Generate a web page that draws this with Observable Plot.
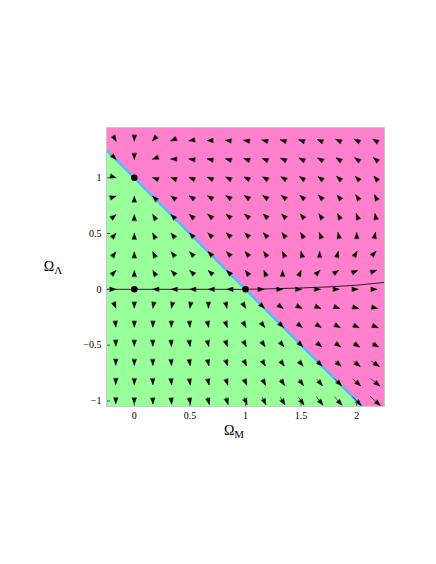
<!DOCTYPE html>
<html><head><meta charset="utf-8">
<script src="https://cdn.jsdelivr.net/npm/d3@7"></script>
<script src="https://cdn.jsdelivr.net/npm/@observablehq/plot@0.6"></script>
<style>body{margin:0;background:#fff}</style>
</head><body><div id="chart"></div>
<script>
// Tick labels
const xTicks = [0, 0.5, 1, 1.5, 2];
const yTicks = [-1, -0.5, 0, 0.5, 1];
// Arrow grid (Omega_M, Omega_Lambda)
const gridOmegaM = [-0.1667, 0, 0.1667, 0.3333, 0.5, 0.6667, 0.8333, 1, 1.1667, 1.3333, 1.5, 1.6667, 1.8333, 2, 2.1667];
const gridOmegaL = [-1, -0.8333, -0.6667, -0.5, -0.3333, -0.1667, 0, 0.1667, 0.3333, 0.5, 0.6667, 0.8333, 1, 1.1667, 1.3333];
// Flat-universe boundary Omega_M + Omega_Lambda = 1
const boundaryM = [-0.25, 2.25];
const boundaryL = [1.25, -1.25];
// Trajectory through the fixed points
const trajM = [-0.25, 0, 0.5, 1, 1.25, 1.5, 1.75, 2, 2.25];
const trajL = [0, 0, 0, 0, 0.005, 0.012, 0.022, 0.037, 0.062];
// Fixed points
const fixedM = [0, 0, 1];
const fixedL = [1, 0, 0];

const W = 436, H = 564, mL = 106, mR = 52, mT = 127, mB = 158;
const xDomain = [-0.25, 2.25], yDomain = [-1.05, 1.45];
const pxX = (W - mL - mR) / (xDomain[1] - xDomain[0]);
const pxY = (H - mT - mB) / (yDomain[1] - yDomain[0]);

// Friedmann dynamical system (d/d ln a)
function flow(m, l) { return [m * (m - 2 * l - 1), l * (m - 2 * l + 2)]; }

const field = [];
for (const l of gridOmegaL) for (const m of gridOmegaM) {
  const [u, v] = flow(m, l);
  const mag = Math.hypot(u, v);
  if (mag > 1e-6) field.push({m, l, u, v, mag});
}
const maxMag = d3.max(field, d => d.mag);
const maxLenPx = 14;
for (const d of field) {
  const len = maxLenPx * d.mag / maxMag;
  const ux = d.u / d.mag, uy = d.v / d.mag;
  d.m1 = d.m - ux * len / 2 / pxX; d.l1 = d.l - uy * len / 2 / pxY;
  d.m2 = d.m + ux * len / 2 / pxX; d.l2 = d.l + uy * len / 2 / pxY;
  d.angle = Math.atan2(d.u, d.v) * 180 / Math.PI;
}
const boundary = boundaryM.map((m, i) => ({m, l: boundaryL[i]}));
const traj = trajM.map((m, i) => ({m, l: trajL[i]}));
const fixed = fixedM.map((m, i) => ({m, l: fixedL[i]}));

const spike = {
  draw(context, l, r) {
    context.moveTo(-r, 0);
    context.lineTo(0, -l);
    context.lineTo(r, 0);
    context.closePath();
  }
};
const fmt = d => d < 0 ? "\u2212" + Math.abs(d) : String(d);

const svg = Plot.plot({
  width: W, height: H,
  marginLeft: mL, marginRight: mR, marginTop: mT, marginBottom: mB,
  style: {fontFamily: "'Liberation Serif', 'Times New Roman', serif", fontSize: "10px", background: "#fff"},
  x: {domain: xDomain, label: null},
  y: {domain: yDomain, label: null},
  marks: [
    Plot.areaY(boundary, {x: "m", y1: yDomain[0], y2: "l", fill: "#99ff99", clip: true}),
    Plot.areaY(boundary, {x: "m", y1: "l", y2: yDomain[1], fill: "#ff80cc", clip: true}),
    Plot.line(boundary, {x: "m", y: "l", stroke: "#55bbff", strokeWidth: 2.6, clip: true}),
    Plot.link(field, {x1: "m1", y1: "l1", x2: "m2", y2: "l2", stroke: "black", strokeWidth: 0.6, clip: true}),
    Plot.vector(field, {x: "m2", y: "l2", rotate: "angle", length: 6, anchor: "end", shape: spike, r: 2.2,
      fill: "black", stroke: "black", strokeWidth: 0.4, clip: true}),
    Plot.line(traj, {x: "m", y: "l", stroke: "#111", strokeWidth: 0.9, clip: true}),
    Plot.dot(fixed, {x: "m", y: "l", r: 3.3, fill: "black"}),
    Plot.ruleX(xTicks, {y1: yDomain[0], y2: yDomain[0] + 4 / pxY, stroke: "#555"}),
    Plot.ruleY(yTicks, {x1: xDomain[0], x2: xDomain[0] + 4 / pxX, stroke: "#555"}),
    Plot.frame({stroke: "#c8c8c8"}),
    Plot.axisX(xTicks, {tickSize: 0, tickPadding: 5, tickFormat: fmt, label: null}),
    Plot.axisY(yTicks, {tickSize: 0, tickPadding: 5, tickFormat: fmt, label: null})
  ]
});

const s = d3.select(svg);
const t1 = s.append("text").attr("x", 234).attr("y", 435)
  .attr("font-family", "'Liberation Serif', 'Times New Roman', serif").attr("font-size", 14).attr("fill", "black");
t1.append("tspan").text("\u03A9");
t1.append("tspan").attr("dy", 3).attr("font-size", 11).text("M");
const t2 = s.append("text").attr("x", 53).attr("y", 271)
  .attr("font-family", "'Liberation Serif', 'Times New Roman', serif").attr("font-size", 14).attr("fill", "black");
t2.append("tspan").text("\u03A9");
t2.append("tspan").attr("dy", 3).attr("font-size", 11).text("\u039B");

document.getElementById("chart").appendChild(svg);
</script>
</body></html>
